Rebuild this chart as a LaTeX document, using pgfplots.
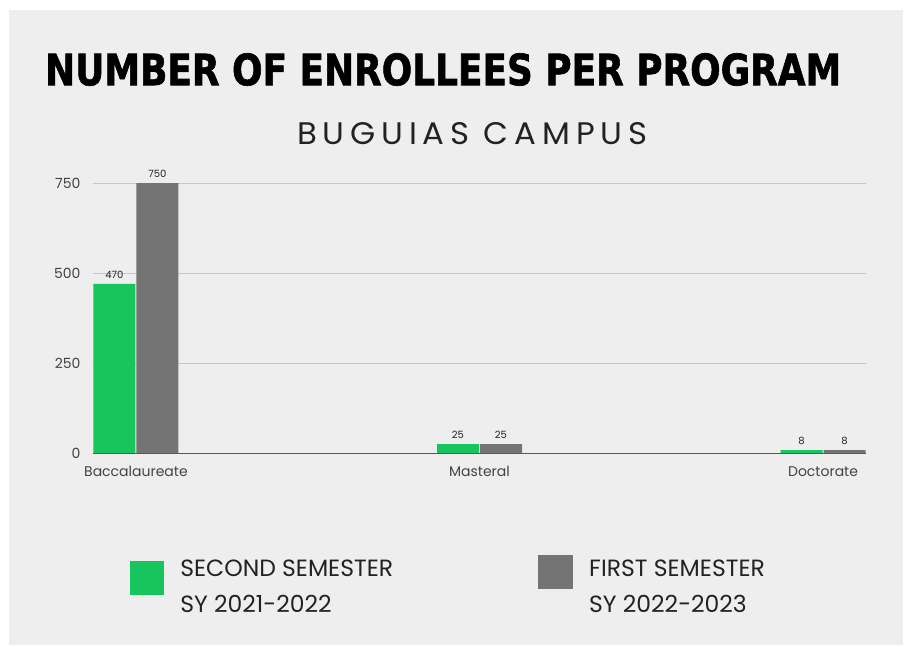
\documentclass[border=0pt]{standalone}
\usepackage{pgfplots}
\pgfplotsset{compat=1.18}
\usepackage{fontspec}
\setmainfont{Poppins}
\newfontfamily\titlefont{DejaVu Sans}[FakeBold=1.5]
\newfontfamily\subfont{Poppins}[LetterSpace=18]
\definecolor{bg}{HTML}{EEEEEE}
\definecolor{barg}{HTML}{17C45E}
\definecolor{bargray}{HTML}{747474}
\definecolor{txt}{HTML}{222222}
\pgfplotsset{
  greenleg/.style={legend image code/.code={\fill[##1] (0pt,-8pt) rectangle (34pt,26pt);}},
  grayleg/.style={legend image code/.code={\fill[##1] (0pt,-2pt) rectangle (35pt,32pt);}},
}
\begin{document}
\begin{tikzpicture}[x=1pt,y=1pt]
\fill[white] (0,0) rectangle (904,-646);
\fill[bg] (9,-10) rectangle (903,-645);
\node[anchor=south west, inner sep=0pt] at (45,-86) {\resizebox{796pt}{32pt}{\titlefont\bfseries NUMBER OF ENROLLEES PER PROGRAM}};
\node[anchor=south west, inner sep=0pt] at (297,-145) {\resizebox{350pt}{22pt}{\color{txt}\subfont BUGUIAS CAMPUS}};
\begin{axis}[
  at={(93pt,-453pt)}, anchor=south west,
  scale only axis, width=773pt, height=270pt,
  xmin=-0.125, xmax=2.125, ymin=0, ymax=750,
  ybar, bar width=42pt,
  axis line style={draw=none},
  major tick length=0pt,
  xtick={0,1,2},
  xticklabels={Baccalaureate,Masteral,Doctorate},
  ytick={0,250,500,750},
  ymajorgrids,
  grid style={draw=black!22, line width=0.8pt},
  /pgf/number format/assume math mode=true,
  tick label style={font=\fontsize{14}{14}\selectfont, text=txt!85},
  yticklabel style={anchor=east, xshift=-9pt},
  xticklabel style={yshift=-10pt},
  nodes near coords,
  every node near coord/.append style={font=\fontsize{10}{10}\selectfont, text=txt, yshift=2pt},
  clip=false,
  legend style={at={(0.048,-0.489)}, anchor=west, draw=none, fill=none,
    legend columns=2, inner sep=0pt,
    cells={anchor=west, align=left, font=\fontsize{23.5}{36}\selectfont, text=txt},
    /tikz/every odd column/.append style={column sep=14pt},
    /tikz/every even column/.append style={column sep=143pt}},
]
\addplot[fill=barg, draw=none, bar shift=-21.5pt, greenleg] coordinates {(0,470) (1,25) (2,8)};
\addlegendentry{SECOND SEMESTER\\SY 2021-2022}
\addplot[fill=bargray, draw=none, bar shift=21.5pt, grayleg] coordinates {(0,750) (1,25) (2,8)};
\addlegendentry{FIRST SEMESTER\\SY 2022-2023}
\draw[black!65, line width=1pt] (axis cs:-0.125,0) -- (axis cs:2.125,0);
\end{axis}
\end{tikzpicture}
\end{document}
